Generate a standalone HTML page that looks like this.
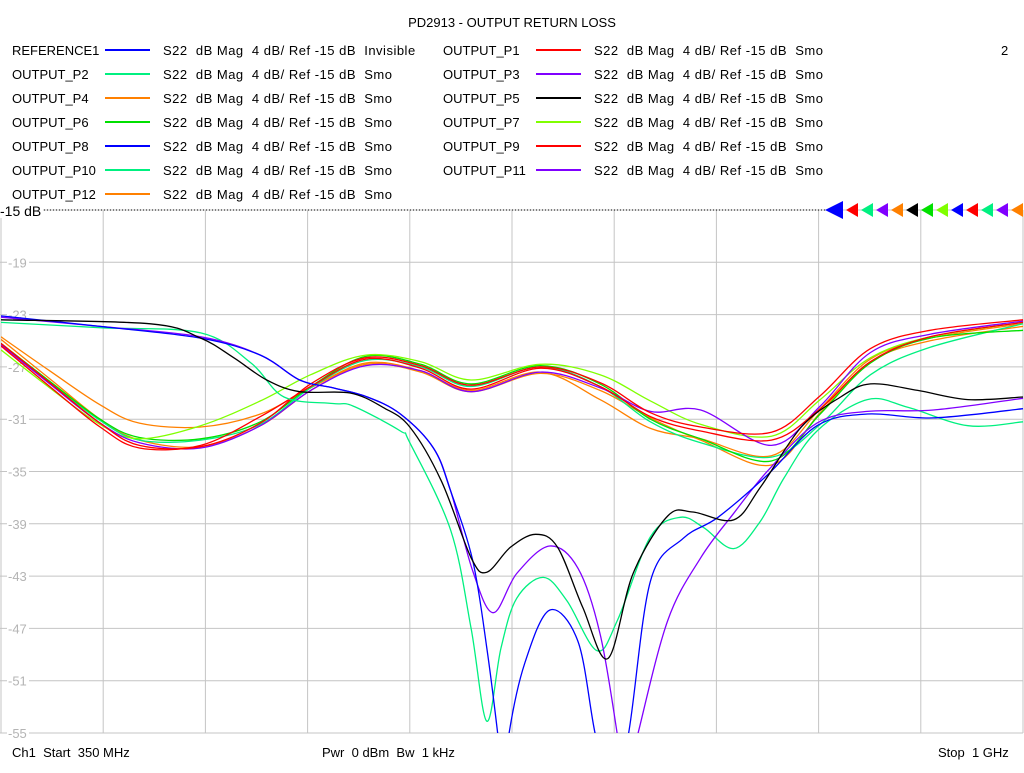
<!DOCTYPE html>
<html><head><meta charset="utf-8">
<style>
body{margin:0;background:#fff;width:1024px;height:768px;overflow:hidden;font-family:"Liberation Sans",sans-serif;}
svg text{font-family:"Liberation Sans",sans-serif;}
</style></head>
<body>
<svg id="chart" width="1024" height="768" viewBox="0 0 1024 768" xmlns="http://www.w3.org/2000/svg">
<text x="512" y="27" font-size="13" text-anchor="middle" fill="#000">PD2913 - OUTPUT RETURN LOSS</text>
<text x="1001" y="55" font-size="13" fill="#000">2</text>
<g id="legend"></g>
<g id="grid"></g>
<defs><clipPath id="plotclip"><rect x="1" y="200" width="1023" height="533"/></clipPath></defs>
<g id="traces" clip-path="url(#plotclip)"></g>
<line x1="44" y1="210" x2="826" y2="210" stroke="#000" stroke-width="1" stroke-dasharray="1,2"/>
<rect x="0" y="202" width="43" height="16" fill="#fff"/>
<text x="0" y="216" font-size="14" fill="#000">-15 dB</text>
<g id="markers"></g>
<text x="12" y="757" font-size="13" fill="#000">Ch1&#160; Start&#160; 350 MHz</text>
<text x="322" y="757" font-size="13" fill="#000">Pwr&#160; 0 dBm&#160; Bw&#160; 1 kHz</text>
<text x="938" y="757" font-size="13" fill="#000">Stop&#160; 1 GHz</text>
</svg>
<script>
const NS="http://www.w3.org/2000/svg";
const yTicks=[-19,-23,-27,-31,-35,-39,-43,-47,-51,-55];
const smoothFreq=[350,381,413,438,477,515,547,582,617,649,693,731,763,795,840,871,903,941,1000];
const p1=[-25.2,-28.2,-31.3,-33.0,-33.1,-31.3,-28.3,-26.3,-26.9,-28.4,-27.0,-28.2,-30.5,-31.6,-32.0,-29.2,-25.6,-24.2,-23.4];
const p9=[-25.4,-28.5,-31.6,-33.2,-33.0,-30.8,-28.5,-26.4,-27.1,-28.7,-27.1,-28.5,-30.8,-31.9,-32.6,-30.2,-26.6,-24.7,-23.6];
const p11=[-25.3,-28.3,-31.3,-32.8,-33.2,-31.5,-28.8,-26.9,-27.3,-28.9,-27.4,-28.6,-30.4,-30.3,-33.0,-30.0,-25.9,-24.5,-23.5];
const p6=[-25.2,-28.1,-31.0,-32.4,-32.5,-31.2,-28.5,-26.2,-26.8,-28.3,-26.9,-28.3,-31.0,-32.5,-34.2,-30.6,-26.7,-24.8,-24.2];
const p7=[-25.7,-28.6,-31.4,-32.5,-31.5,-29.6,-27.6,-26.1,-26.6,-28.0,-26.8,-27.6,-29.6,-31.4,-32.3,-29.5,-26.3,-24.7,-23.6];
const p10=[-25.3,-28.2,-31.1,-32.6,-32.6,-31.4,-28.6,-26.5,-27.0,-28.5,-27.0,-28.5,-31.2,-32.8,-33.9,-31.4,-27.6,-25.5,-23.7];
const p4=[-24.7,-27.3,-29.9,-31.3,-31.6,-30.6,-28.6,-26.7,-27.3,-28.8,-27.4,-29.5,-31.7,-32.5,-33.8,-30.2,-26.4,-24.8,-23.7];
const p12=[-24.9,-27.9,-31.0,-32.6,-33.1,-31.5,-28.8,-26.8,-27.4,-28.9,-27.5,-28.8,-30.9,-32.6,-34.5,-30.5,-26.6,-25.0,-23.9];
const p5Freq=[350,445,477,498,519,540,572,593,610,630,649,659,674,690,704,720,736,752,774,790,816,833,859,884,903,933,965,1000];
const p5=[-23.4,-23.7,-24.8,-26.3,-28.0,-28.9,-29.0,-30.1,-31.6,-35.7,-41.6,-42.7,-40.8,-39.8,-40.8,-45.4,-49.3,-42.8,-38.4,-38.1,-38.7,-36.2,-31.6,-29.3,-28.3,-28.8,-29.5,-29.3];
const p3Freq=[350,413,477,515,540,561,583,604,625,636,650,663,678,699,717,731,742,747,755,774,795,816,838,869,901,943,1000];
const p3=[-23.2,-23.9,-24.7,-26.1,-28.0,-28.6,-29.3,-30.6,-33.2,-36.5,-42.6,-45.8,-42.8,-40.7,-42.4,-47.4,-55.1,-59.4,-55.1,-46.4,-41.6,-38.2,-34.9,-31.3,-30.4,-30.3,-29.4];
const p8Freq=[350,413,477,515,540,561,583,604,625,636,650,659,666,670,673,683,699,717,728,738,749,763,784,806,838,869,901,943,1000];
const p8=[-23.1,-23.9,-24.8,-26.1,-28.0,-28.6,-29.3,-30.6,-33.2,-36.5,-41.8,-48.5,-55.1,-59.4,-55.1,-49.7,-45.6,-48.0,-55.1,-59.4,-55.1,-43.4,-40.1,-38.5,-35.2,-31.5,-30.6,-30.9,-30.2];
const p2Freq=[350,413,477,509,530,561,574,604,610,636,649,659,668,678,695,710,729,742,763,782,797,816,833,848,869,901,927,965,1000];
const p2=[-23.6,-24.0,-24.4,-26.7,-29.3,-29.8,-30.0,-31.9,-32.8,-39.5,-47.0,-54.1,-48.5,-44.7,-43.1,-44.9,-48.7,-46.4,-40.0,-38.5,-39.3,-40.9,-38.8,-35.5,-31.9,-29.5,-30.1,-31.5,-31.2];

const F0=350,F1=1000,X0=1,X1=1023,Y0=210,Y1=733,DB0=-15,DB1=-55;
const xs=f=>X0+(f-F0)/(F1-F0)*(X1-X0);
const ys=d=>Y0+(d-DB0)/(DB1-DB0)*(Y1-Y0);
function mk(tag,attrs,parent){const e=document.createElementNS(NS,tag);for(const k in attrs)e.setAttribute(k,attrs[k]);parent.appendChild(e);return e;}

const grid=document.getElementById('grid');
for(let i=0;i<=10;i++){
  const x=X0+i*(X1-X0)/10;
  const l=mk('line',{x1:x,y1:Y0,x2:x,y2:Y1,stroke:'#c4c4c4','stroke-width':1},grid);
  
  
}
for(let i=0;i<=10;i++){
  const d=DB0-4*i;const y=ys(d);
  const l=mk('line',{x1:0,y1:y,x2:X1,y2:y,stroke:'#c4c4c4','stroke-width':1},grid);
  
  
}
yTicks.forEach(t=>{
  const y=ys(t);
  mk('rect',{x:7,y:y-7,width:22,height:14,fill:'#fff'},grid);
  const tx=mk('text',{x:8,y:y+5,'font-size':13,fill:'#b4b4b4'},grid);
  tx.textContent=String(t);
  
  
});

function pathFrom(fr,vals){
  const pts=fr.map((f,i)=>[xs(f),ys(vals[i])]);
  let d='M'+pts[0][0].toFixed(1)+','+pts[0][1].toFixed(1);
  for(let i=0;i<pts.length-1;i++){
    const p0=pts[Math.max(0,i-1)],p1=pts[i],p2=pts[i+1],p3=pts[Math.min(pts.length-1,i+2)];
    const c1=[p1[0]+(p2[0]-p0[0])/6,p1[1]+(p2[1]-p0[1])/6];
    const c2=[p2[0]-(p3[0]-p1[0])/6,p2[1]-(p3[1]-p1[1])/6];
    d+=' C'+c1[0].toFixed(1)+','+c1[1].toFixed(1)+' '+c2[0].toFixed(1)+','+c2[1].toFixed(1)+' '+p2[0].toFixed(1)+','+p2[1].toFixed(1);
  }
  return d;
}
const traces=document.getElementById('traces');
const series=[
 ['trace-output-p4',smoothFreq,p4,'#ff8000'],
 ['trace-output-p12',smoothFreq,p12,'#ff8000'],
 ['trace-output-p10',smoothFreq,p10,'#00f080'],
 ['trace-output-p6',smoothFreq,p6,'#00e000'],
 ['trace-output-p7',smoothFreq,p7,'#80ff00'],
 ['trace-output-p11',smoothFreq,p11,'#8000ff'],
 ['trace-output-p9',smoothFreq,p9,'#ff0000'],
 ['trace-output-p1',smoothFreq,p1,'#ff0000'],
 ['trace-output-p2',p2Freq,p2,'#00f080'],
 ['trace-output-p3',p3Freq,p3,'#8000ff'],
 ['trace-output-p8',p8Freq,p8,'#0000ff'],
 ['trace-output-p5',p5Freq,p5,'#000000']
];
series.forEach(s=>{
  const p=mk('path',{d:pathFrom(s[1],s[2]),fill:'none',stroke:s[3],'stroke-width':1.3},traces);
  
  
});

const markerColors=['#ff0000','#00f080','#8000ff','#ff8000','#000000','#00e000','#80ff00','#0000ff','#ff0000','#00f080','#8000ff','#ff8000'];
const markers=document.getElementById('markers');
const big=mk('polygon',{points:'825,210 843,201 843,219',fill:'#0000ff'},markers);


markerColors.forEach((c,i)=>{
  const x=846+i*15;
  const m=mk('polygon',{points:`${x},210 ${x+12},203 ${x+12},217`,fill:c},markers);
  
  
});

const legendRows=[
 ['REFERENCE1','#0000ff','Invisible',0,0],['OUTPUT_P1','#ff0000','Smo',1,0],
 ['OUTPUT_P2','#00f080','Smo',0,1],['OUTPUT_P3','#8000ff','Smo',1,1],
 ['OUTPUT_P4','#ff8000','Smo',0,2],['OUTPUT_P5','#000000','Smo',1,2],
 ['OUTPUT_P6','#00e000','Smo',0,3],['OUTPUT_P7','#80ff00','Smo',1,3],
 ['OUTPUT_P8','#0000ff','Smo',0,4],['OUTPUT_P9','#ff0000','Smo',1,4],
 ['OUTPUT_P10','#00f080','Smo',0,5],['OUTPUT_P11','#8000ff','Smo',1,5],
 ['OUTPUT_P12','#ff8000','Smo',0,6]
];
const legend=document.getElementById('legend');
legendRows.forEach(r=>{
  const bx=r[3]?443:12, y=55+r[4]*24;
  const g=mk('g',{},legend);
  
  
  const t=mk('text',{x:bx,y:y,'font-size':13,fill:'#000'},g);t.textContent=r[0];
  mk('line',{x1:bx+93,y1:y-5,x2:bx+138,y2:y-5,stroke:r[1],'stroke-width':2},g);
  const t2=mk('text',{x:bx+151,y:y,'font-size':13,fill:'#000','letter-spacing':'0.5'},g);
  t2.textContent='S22\u00a0 dB Mag\u00a0 4 dB/ Ref -15 dB\u00a0 '+r[2];
});
</script>
</body></html>
